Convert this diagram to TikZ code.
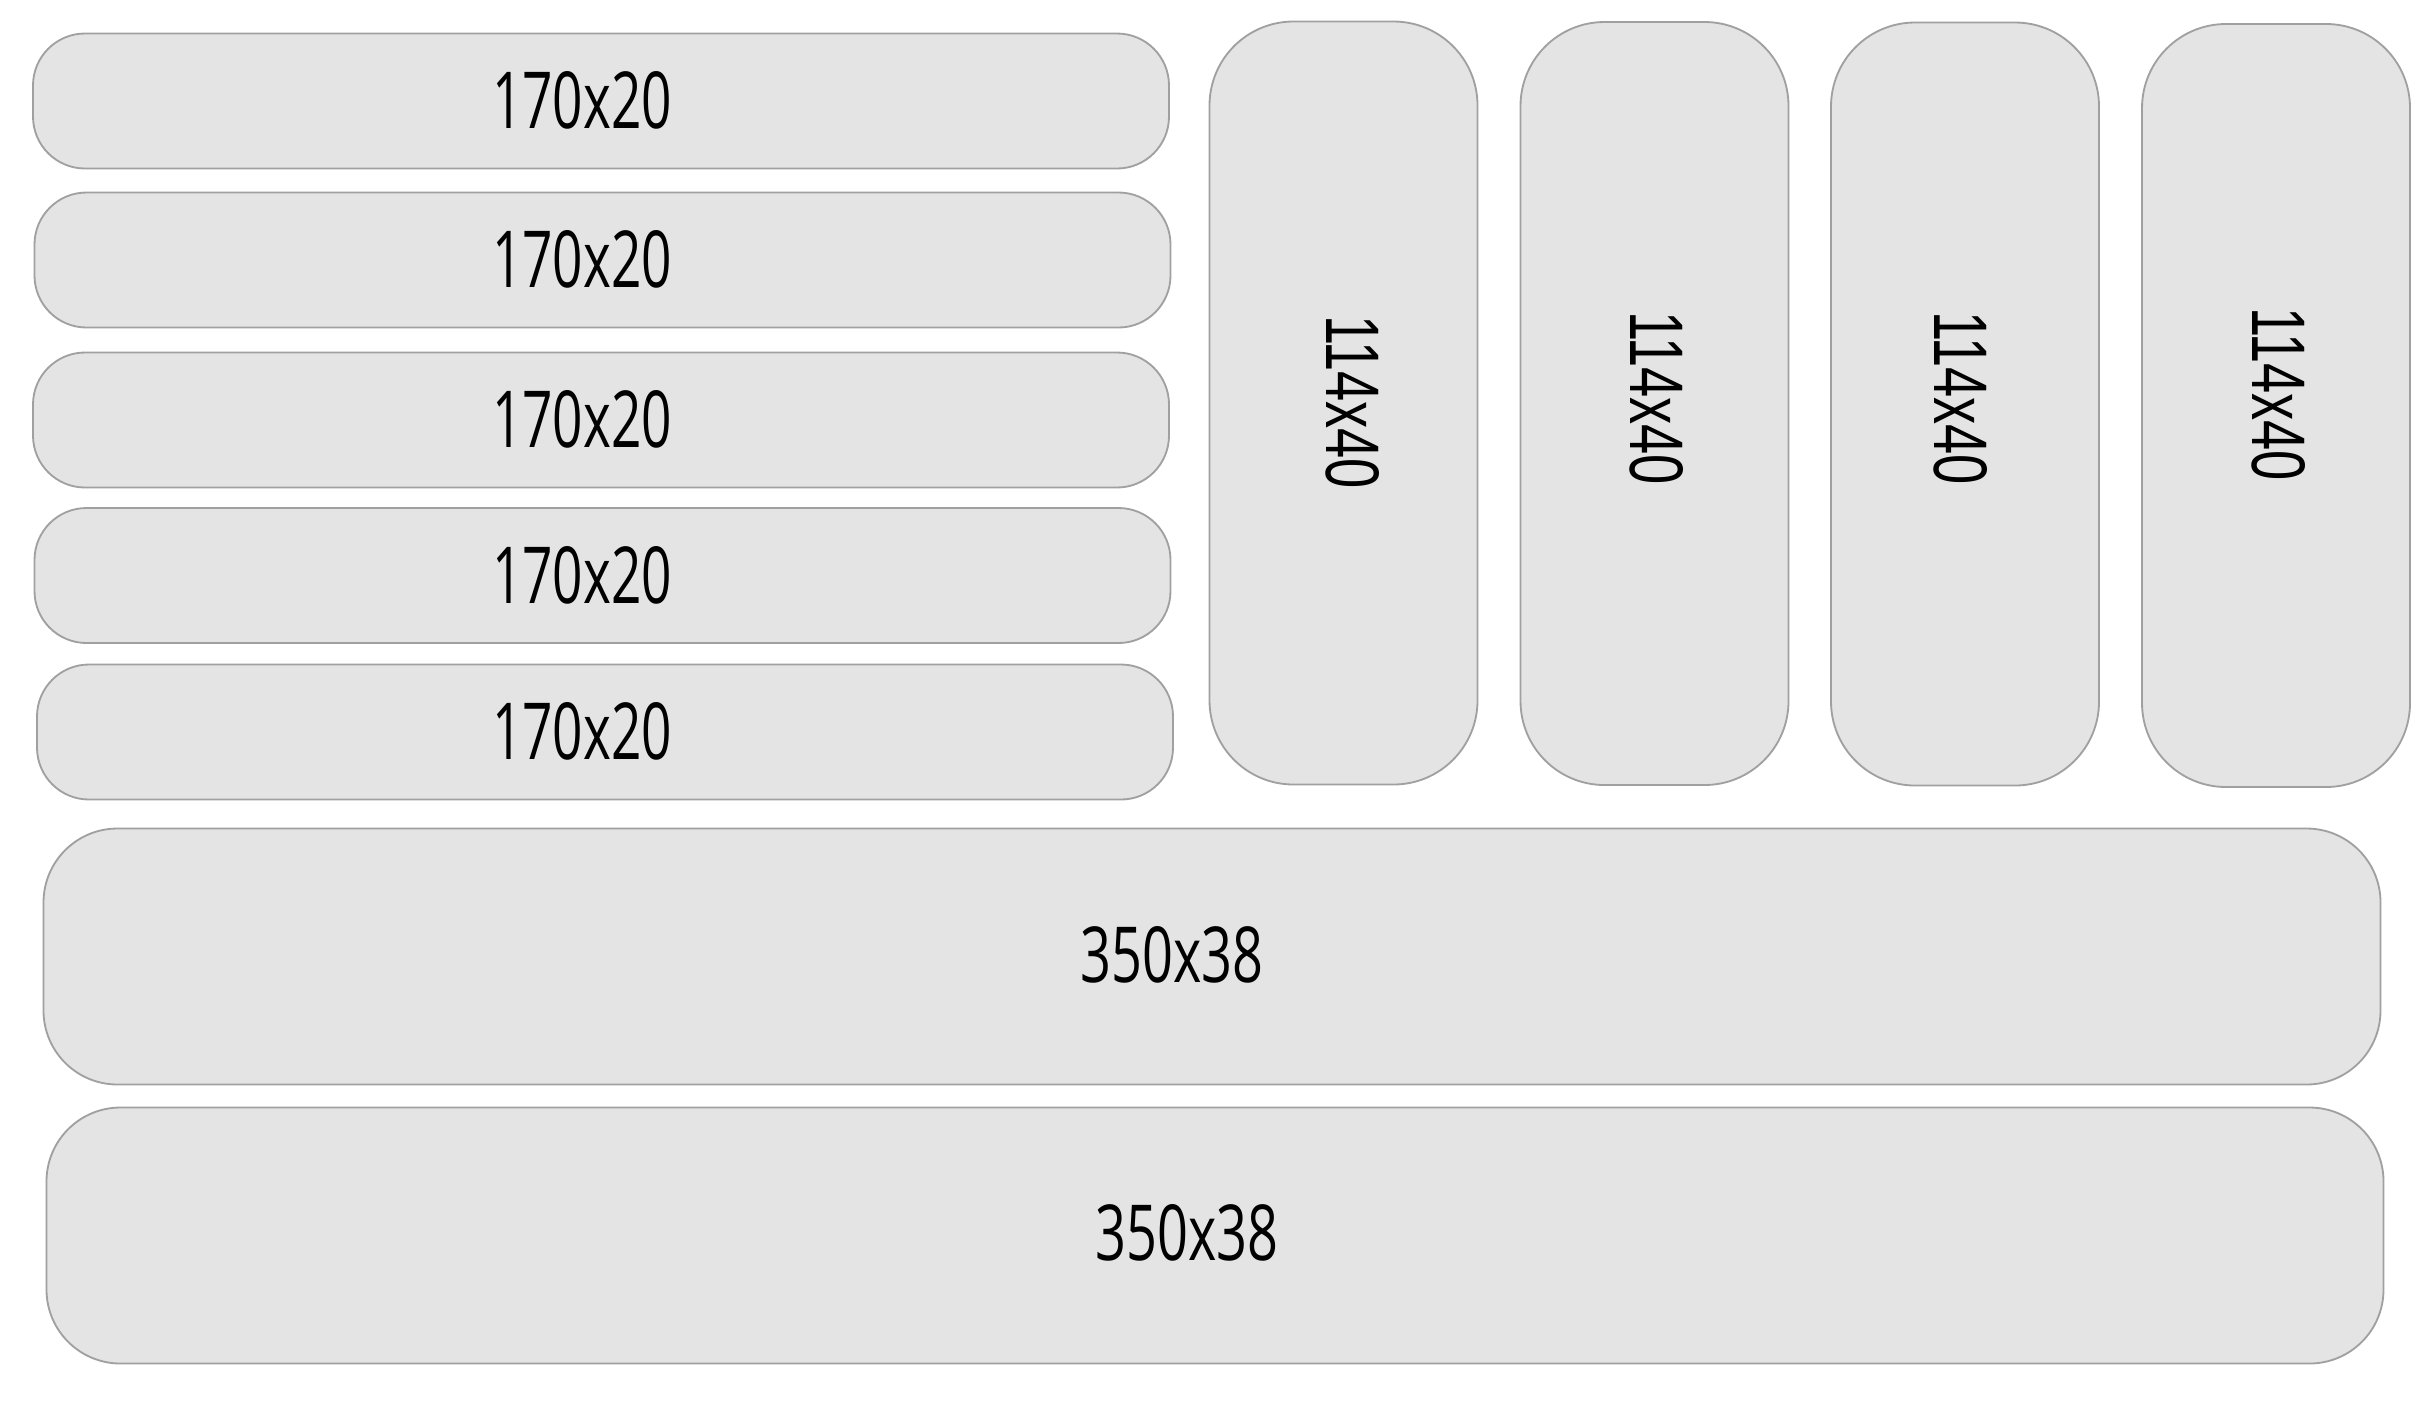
\documentclass[tikz,border=0pt]{standalone}
\usepackage{fontspec}
\setmainfont{Open Sans}
\newfontfamily\vfont{Liberation Sans}
\newfontfamily\hfont{Open Sans}
\definecolor{boxfill}{RGB}{228,228,228}
\definecolor{boxline}{RGB}{160,160,160}
\begin{document}
\begin{tikzpicture}[x=0.3pt,y=-0.3pt,
  pill/.style={draw=boxline,fill=boxfill,line width=0.55pt,rectangle,inner sep=0pt,outer sep=0pt},
  hpill/.style={pill,minimum width=1136*0.3pt,minimum height=135*0.3pt,rounded corners=52*0.3pt},
  vpill/.style={pill,minimum width=268*0.3pt,minimum height=763*0.3pt,rounded corners=84*0.3pt},
  bpill/.style={pill,minimum width=2337*0.3pt,minimum height=256*0.3pt,rounded corners=74*0.3pt},
  lbl/.style={inner sep=0pt,outer sep=0pt,text=black}]
\useasboundingbox (0,0) rectangle (2433,1407);
\fill[white] (0,0) rectangle (2433,1407);
% horizontal small boxes
\node[hpill] (h1) at (601,101) {};
\node[hpill] (h2) at (602.5,260) {};
\node[hpill] (h3) at (601,420) {};
\node[hpill] (h4) at (602.5,575.5) {};
\node[hpill] (h5) at (605,732) {};
\node[lbl] (t1) at (582,100) {\resizebox{54pt}{17.1pt}{\hfont 170x20}};
\node[lbl] (t2) at (582,259) {\resizebox{54pt}{17.1pt}{\hfont 170x20}};
\node[lbl] (t3) at (582,419) {\resizebox{54pt}{17.1pt}{\hfont 170x20}};
\node[lbl] (t4) at (582,575) {\resizebox{54pt}{17.1pt}{\hfont 170x20}};
\node[lbl] (t5) at (582,731) {\resizebox{54pt}{17.1pt}{\hfont 170x20}};
% vertical boxes
\node[vpill] (v1) at (1343.5,403) {};
\node[vpill] (v2) at (1654.5,403.5) {};
\node[vpill] (v3) at (1965,404) {};
\node[vpill] (v4) at (2276,405.5) {};
\node[lbl,rotate=-90] (u1) at (1352.5,402) {\resizebox{52.2pt}{15.9pt}{\vfont 114x40}};
\node[lbl,rotate=-90] (u2) at (1657,398) {\resizebox{52.2pt}{15.9pt}{\vfont 114x40}};
\node[lbl,rotate=-90] (u3) at (1961,398) {\resizebox{52.2pt}{15.9pt}{\vfont 114x40}};
\node[lbl,rotate=-90] (u4) at (2279,394) {\resizebox{52.2pt}{15.9pt}{\vfont 114x40}};
% big boxes
\node[bpill] (b1) at (1212,956.5) {};
\node[bpill] (b2) at (1215,1235.5) {};
\node[lbl] (s1) at (1172,955) {\resizebox{54.9pt}{16.8pt}{\hfont 350x38}};
\node[lbl] (s2) at (1187,1233) {\resizebox{54.9pt}{16.8pt}{\hfont 350x38}};
\end{tikzpicture}
\end{document}
